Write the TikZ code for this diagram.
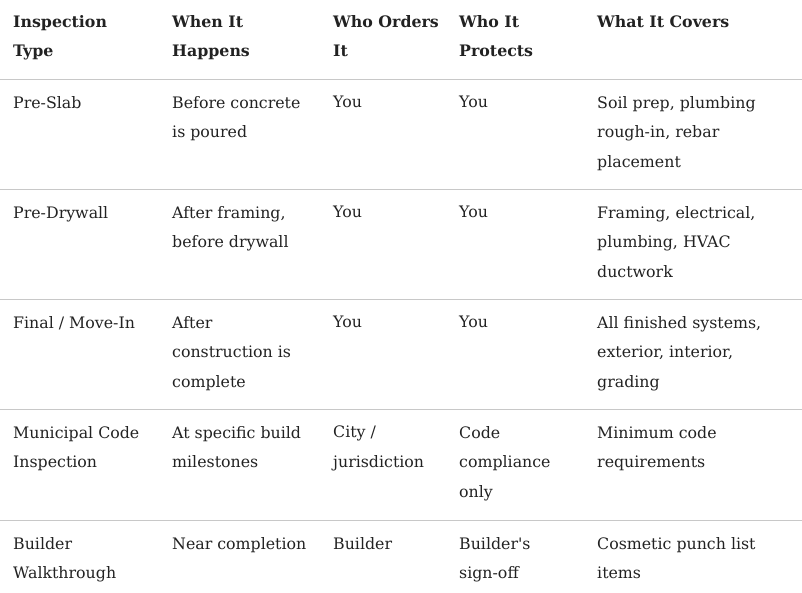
\documentclass[tikz,border=0pt]{standalone}
\usepackage{fontspec}
\setmainfont{DejaVu Serif}
\newfontfamily\quotefont{DejaVu Serif}
\usetikzlibrary{positioning}
\definecolor{rulegray}{HTML}{C8C8C8}
\definecolor{inkgray}{HTML}{222222}
\tikzset{
  cell/.style={anchor=north west, inner sep=0pt, align=left, text=inkgray,
    font=\fontsize{15.8}{29.5}\selectfont},
  headcell/.style={cell, font=\fontsize{15.8}{29.5}\selectfont\bfseries},
  rowrule/.style={rulegray, line width=0.8pt}
}
\begin{document}
\begin{tikzpicture}[x=1pt,y=-1pt]
\useasboundingbox (0,0) rectangle (802,593);
% header
\node[headcell] (h1) at (13,15) {Inspection\\Type};
\node[headcell] (h2) at (172,15) {When It\\Happens};
\node[headcell] (h3) at (333,15) {Who Orders\\It};
\node[headcell] (h4) at (459,15) {Who It\\Protects};
\node[headcell] (h5) at (597,15) {What It Covers};
% rules
\foreach \y in {79,189,299,409,520}
  \draw[rowrule] (0,\y) -- (802,\y);
% rows
\node[cell] (a1) at (13,96) {Pre-Slab};
\node[cell] (a2) at (172,96) {Before concrete\\is poured};
\node[cell] (a3) at (333,96) {You};
\node[cell] (a4) at (459,96) {You};
\node[cell] (a5) at (597,96) {Soil prep, plumbing\\rough-in, rebar\\placement};

\node[cell] (b1) at (13,206) {Pre-Drywall};
\node[cell] (b2) at (172,206) {After framing,\\before drywall};
\node[cell] (b3) at (333,206) {You};
\node[cell] (b4) at (459,206) {You};
\node[cell] (b5) at (597,206) {Framing, electrical,\\plumbing, HVAC\\ductwork};

\node[cell] (c1) at (13,316) {Final / Move-In};
\node[cell] (c2) at (172,316) {After\\construction is\\complete};
\node[cell] (c3) at (333,316) {You};
\node[cell] (c4) at (459,316) {You};
\node[cell] (c5) at (597,316) {All finished systems,\\exterior, interior,\\grading};

\node[cell] (d1) at (13,426) {Municipal Code\\Inspection};
\node[cell] (d2) at (172,426) {At specific build\\milestones};
\node[cell] (d3) at (333,426) {City /\\jurisdiction};
\node[cell] (d4) at (459,426) {Code\\compliance\\only};
\node[cell] (d5) at (597,426) {Minimum code\\requirements};

\node[cell] (e1) at (13,537) {Builder\\Walkthrough};
\node[cell] (e2) at (172,537) {Near completion};
\node[cell] (e3) at (333,537) {Builder};
\node[cell] (e4) at (459,537) {Builder{\quotefont'}s\\sign-off};
\node[cell] (e5) at (597,537) {Cosmetic punch list\\items};
\end{tikzpicture}
\end{document}
